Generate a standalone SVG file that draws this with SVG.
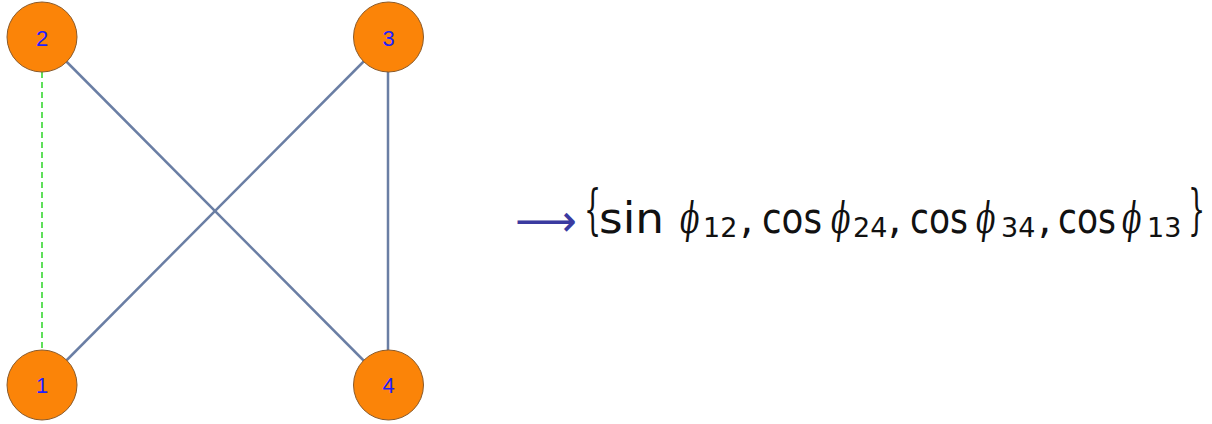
<svg xmlns="http://www.w3.org/2000/svg" width="1212" height="424" viewBox="0 0 1212 424">
<style>
.node circle{fill:#fb8408;stroke:#8a5a2a;stroke-width:1}
.node text{font-family:"Liberation Sans",Arial,sans-serif;font-size:22px;fill:#1f1fff;text-anchor:middle}
.edge{stroke:#6a7ea4;stroke-width:2.5;fill:none}
.dash{stroke:#5fe05a;stroke-width:2;stroke-dasharray:6 4;fill:none}
.w{font-family:"DejaVu Sans","Liberation Sans",sans-serif;font-size:42px;fill:#111}
.phi{font-family:"DejaVu Serif","Liberation Serif",serif;font-style:italic;font-size:42px;fill:#111}
.sub{font-family:"DejaVu Sans","Liberation Sans",sans-serif;font-size:27px;fill:#111}
.br{font-family:"DejaVu Serif","Liberation Serif",serif;font-size:54px;fill:#111}
</style>
<rect width="1212" height="424" fill="#fff"/>
<g id="connectors">
<line class="dash" x1="42" y1="72" x2="42" y2="350"/>
<line class="edge" x1="42" y1="37" x2="388" y2="385"/>
<line class="edge" x1="42" y1="385" x2="388" y2="37"/>
<line class="edge" x1="388" y1="37" x2="388" y2="385"/>
</g>
<g id="node2" class="node"><circle cx="42" cy="37" r="35"/><text x="42" y="46">2</text></g>
<g id="node3" class="node"><circle cx="388.5" cy="37" r="35"/><text x="388.5" y="46">3</text></g>
<g id="node1" class="node"><circle cx="42" cy="385" r="35"/><text x="42" y="393">1</text></g>
<g id="node4" class="node"><circle cx="388.5" cy="385" r="35"/><text x="388.5" y="393">4</text></g>
<g id="formula">
<text transform="translate(515,236) scale(0.98,1)" font-family="DejaVu Sans,sans-serif" font-size="44" fill="#3a3aa0">⟶</text>
<text class="br" transform="translate(584,228) scale(0.5,1)">{</text>
<text class="w" transform="translate(599,233) scale(1.08,1)">sin</text>
<text class="phi" transform="translate(680,233) scale(0.68,1)">ϕ</text>
<text class="sub" x="703" y="237">12</text>
<text class="w" x="740" y="233">,</text>
<text class="w" transform="translate(762,233) scale(0.85,1)">cos</text>
<text class="phi" transform="translate(831,233) scale(0.68,1)">ϕ</text>
<text class="sub" x="853" y="237">24</text>
<text class="w" x="888" y="233">,</text>
<text class="w" transform="translate(910,233) scale(0.82,1)">cos</text>
<text class="phi" transform="translate(976,233) scale(0.68,1)">ϕ</text>
<text class="sub" x="1001" y="237">34</text>
<text class="w" x="1038" y="233">,</text>
<text class="w" transform="translate(1058,233) scale(0.82,1)">cos</text>
<text class="phi" transform="translate(1122,233) scale(0.68,1)">ϕ</text>
<text class="sub" x="1147" y="237">13</text>
<text class="br" transform="translate(1188,228) scale(0.5,1)">}</text>
</g>
</svg>
